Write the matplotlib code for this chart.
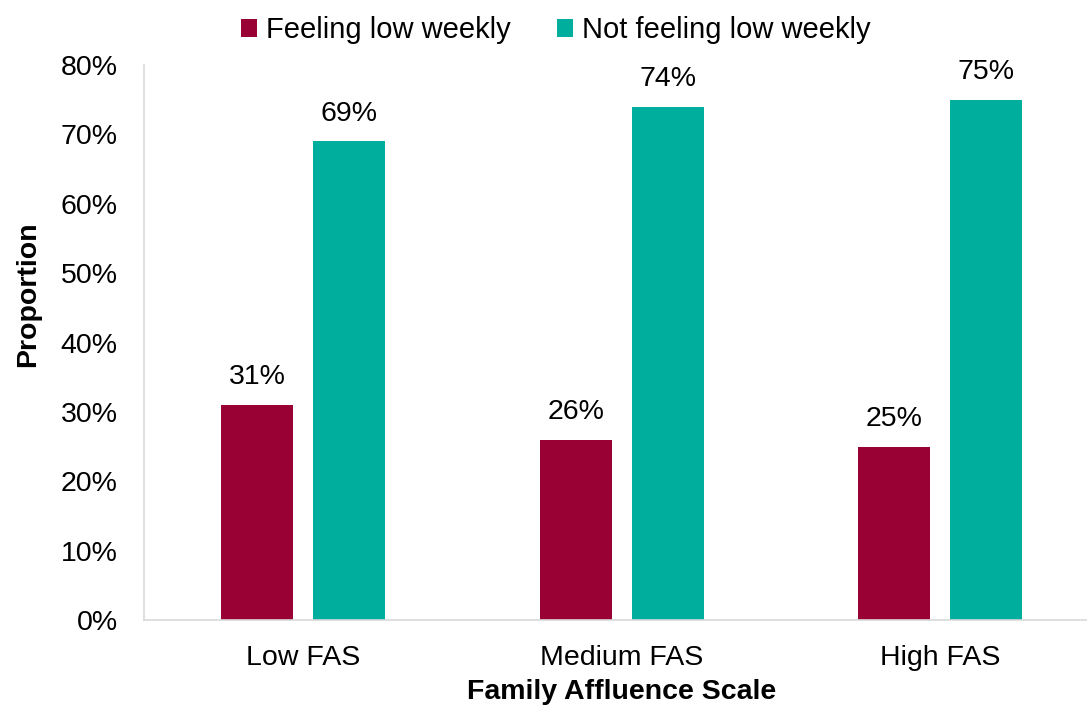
import numpy as np
import matplotlib
matplotlib.use("Agg")
import matplotlib.pyplot as plt
from matplotlib.ticker import PercentFormatter

plt.rcParams['font.family'] = ['Liberation Sans', 'DejaVu Sans']

groups = ['Low FAS', 'Medium FAS', 'High FAS']
feeling_low = [31, 26, 25]
not_feeling_low = [69, 74, 75]
series_names = ['Feeling low weekly', 'Not feeling low weekly']
colors = ['#990033', '#00AE9E']

fig = plt.figure(figsize=(10.87, 7.06), dpi=100)
ax = fig.add_axes([0.1325, 0.1218, 0.879, 0.786])

x = np.arange(len(groups))
w = 0.226
off = 0.144
b1 = ax.bar(x - off, feeling_low, w, color=colors[0], label=series_names[0])
b2 = ax.bar(x + off, not_feeling_low, w, color=colors[1], label=series_names[1])

for bars in (b1, b2):
    for r in bars:
        ax.text(r.get_x() + r.get_width() / 2, r.get_height() + 2.1,
                f"{r.get_height():.0f}%", ha='center', va='bottom', fontsize=20.5)

ax.set_xlim(-0.5, 2.5)
ax.set_ylim(0, 80)
ax.set_yticks(range(0, 81, 10))
ax.yaxis.set_major_formatter(PercentFormatter(decimals=0))
ax.set_xticks(x)
ax.set_xticklabels(groups)
ax.tick_params(axis='both', labelsize=20.5, length=0)
ax.tick_params(axis='y', pad=19)
ax.tick_params(axis='x', pad=18)

for s in ['top', 'right']:
    ax.spines[s].set_visible(False)
for s in ['left', 'bottom']:
    ax.spines[s].set_color('#d9d9d9')
    ax.spines[s].set_linewidth(1.2)

ax.set_ylabel('Proportion', fontsize=20.5, fontweight='bold', labelpad=14, y=0.587)
ax.set_xlabel('Family Affluence Scale', fontsize=20.5, fontweight='bold', labelpad=6)

ax.legend(loc='upper center', bbox_to_anchor=(0.431, 1.135), ncol=2, frameon=False,
          fontsize=21, handlelength=0.55, handleheight=0.55, handletextpad=0.3,
          columnspacing=1.6)

fig.savefig('out.png', dpi=100)
